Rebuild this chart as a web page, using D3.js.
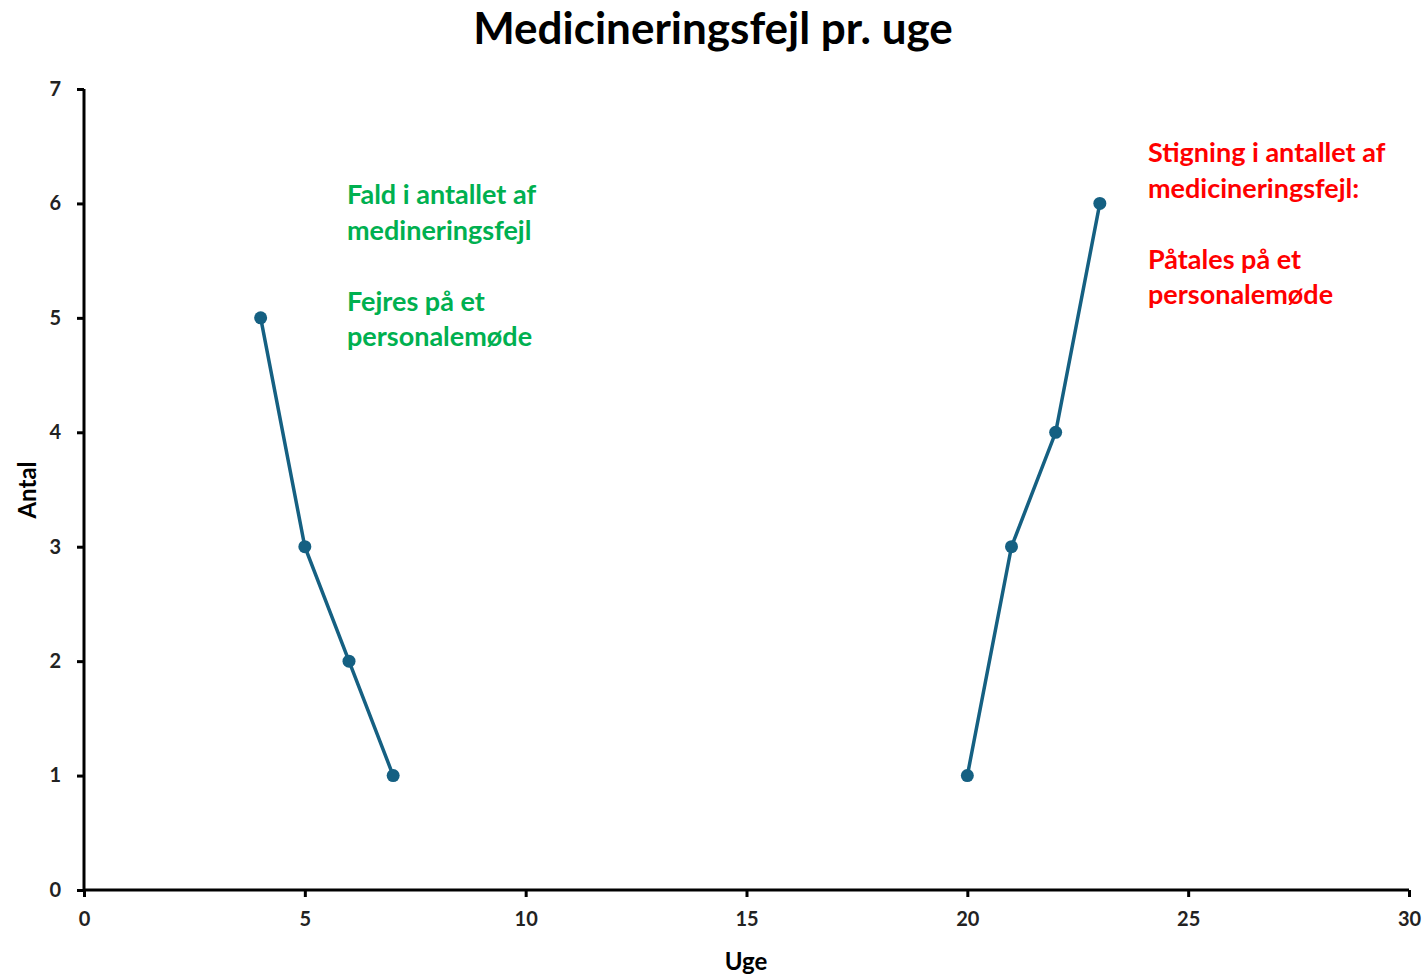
<!DOCTYPE html>
<meta charset="utf-8">
<style>
  body { margin: 0; background: #fff; }
  text { font-family: Lato, "Open Sans", sans-serif; font-weight: bold; }
</style>
<body>
  <div id="chart"></div>
  <script src="https://d3js.org/d3.v7.min.js"></script>
  <script>
    // two separate runs of weekly counts
    var weeksA = [4, 5, 6, 7];
    var countsA = [5, 3, 2, 1];
    var weeksB = [20, 21, 22, 23];
    var countsB = [1, 3, 4, 6];

    var xTicks = [0, 5, 10, 15, 20, 25, 30];
    var yTicks = [0, 1, 2, 3, 4, 5, 6, 7];

    var greenNote = ["Fald i antallet af", "medineringsfejl", "", "Fejres på et", "personalemøde"];
    var redNote = ["Stigning i antallet af", "medicineringsfejl:", "", "Påtales på et", "personalemøde"];

    var W = 1427, H = 974;
    var margin = { top: 89, right: 18, bottom: 84, left: 84 },
      width = W - margin.left - margin.right,
      height = H - margin.top - margin.bottom;

    var svg = d3.select("#chart")
      .append("svg")
      .attr("width", W)
      .attr("height", H);

    var g = svg.append("g")
      .attr("transform", "translate(" + margin.left + "," + margin.top + ")");

    var x = d3.scaleLinear().domain([0, 30]).range([0, width]);
    var y = d3.scaleLinear().domain([0, 7]).range([height, 0]);

    // title
    svg.append("text")
      .attr("x", 713)
      .attr("y", 44)
      .attr("text-anchor", "middle")
      .style("font-size", "44px")
      .style("fill", "#000")
      .text("Medicineringsfejl pr. uge");

    // axes
    var xAxis = g.append("g")
      .attr("transform", "translate(0," + height + ")")
      .call(d3.axisBottom(x).tickValues(xTicks).tickFormat(d3.format("d")).tickSize(7).tickPadding(15));
    var yAxis = g.append("g")
      .call(d3.axisLeft(y).tickValues(yTicks).tickFormat(d3.format("d")).tickSize(7).tickPadding(16));

    [xAxis, yAxis].forEach(function(a) {
      a.select(".domain").attr("stroke", "#000").attr("stroke-width", 3);
      a.selectAll(".tick line").attr("stroke", "#000").attr("stroke-width", 3);
      a.selectAll(".tick text")
        .style("font-size", "20px")
        .style("font-family", "Lato, sans-serif")
        .style("font-weight", "bold")
        .attr("fill", "#222");
    });
    // plain domain lines without end stubs
    xAxis.select(".domain").attr("d", "M0,0H" + width);
    yAxis.select(".domain").attr("d", "M0," + height + "V0");

    // axis titles
    svg.append("text")
      .attr("x", 746)
      .attr("y", 970)
      .attr("text-anchor", "middle")
      .style("font-size", "24px")
      .text("Uge");
    svg.append("text")
      .attr("transform", "translate(36,490) rotate(-90)")
      .attr("text-anchor", "middle")
      .style("font-size", "24px")
      .text("Antal");

    var line = d3.line()
      .x(function(d) { return x(d[0]); })
      .y(function(d) { return y(d[1]); });

    var color = "#156082";
    [d3.zip(weeksA, countsA), d3.zip(weeksB, countsB)].forEach(function(pts) {
      g.append("path")
        .datum(pts)
        .attr("d", line)
        .attr("fill", "none")
        .attr("stroke", color)
        .attr("stroke-width", 3.5);
      g.selectAll(null)
        .data(pts)
        .enter()
        .append("circle")
        .attr("cx", function(d) { return x(d[0]); })
        .attr("cy", function(d) { return y(d[1]); })
        .attr("r", 6.5)
        .attr("fill", color);
    });

    // annotations
    function note(lines, px, py, fill) {
      var t = svg.append("text")
        .attr("x", px)
        .attr("y", py)
        .style("font-size", "27px")
        .style("fill", fill);
      lines.forEach(function(s, i) {
        t.append("tspan")
          .attr("x", px)
          .attr("y", py + i * 35.5)
          .text(s);
      });
    }
    note(greenNote, 347, 204, "#00B050");
    note(redNote, 1148, 162, "#FF0000");
  </script>
